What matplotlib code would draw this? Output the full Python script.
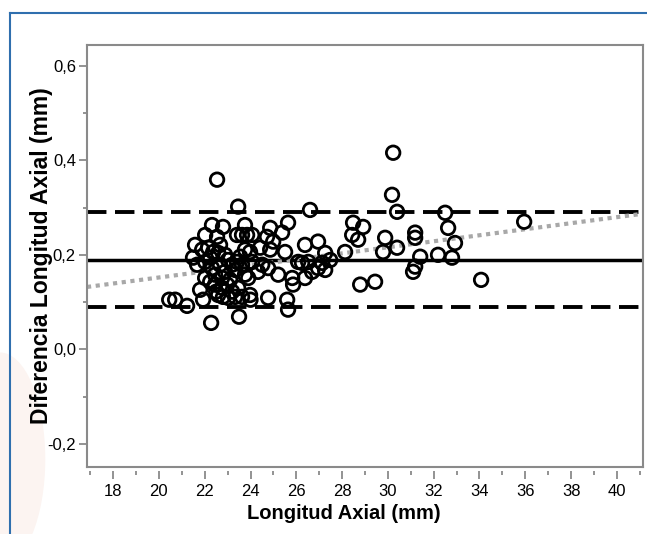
import numpy as np
import matplotlib
matplotlib.use('Agg')
import matplotlib.pyplot as plt
from matplotlib.patches import Ellipse
from matplotlib.ticker import MultipleLocator, FuncFormatter

plt.rcParams['font.family'] = ['Liberation Sans', 'DejaVu Sans']

# Longitud axial (mm) vs diferencia (mm)
longitud = [20.45, 20.71, 21.23, 21.89, 22.15, 22.37, 22.59, 22.89, 21.49, 21.67,
            22.02, 22.32, 22.45, 22.67, 22.89, 23.20, 23.41, 23.63, 23.76, 22.02,
            22.24, 22.45, 22.76, 22.98, 23.20, 23.46, 22.59, 22.80, 23.02, 23.33,
            23.63, 23.98, 21.80, 22.76, 23.90, 23.98, 23.76, 24.07, 23.55, 21.93,
            22.32, 22.80, 22.02, 22.54, 22.67, 23.41, 23.63, 23.85, 23.76, 24.07,
            22.54, 22.28, 23.46, 23.50, 23.11, 23.33, 23.02, 22.24, 21.58, 22.50,
            24.86, 25.64, 25.38, 24.72, 24.99, 24.42, 24.86, 25.51, 26.38, 26.95,
            27.26, 26.52, 26.25, 26.08, 27.13, 27.48, 24.51, 24.77, 24.33, 25.21,
            25.82, 25.86, 26.38, 26.69, 26.95, 27.26, 24.00, 24.77, 25.60, 25.64,
            26.60, 30.23, 30.18, 30.40, 32.50, 32.63, 32.93, 28.48, 28.92, 28.44,
            28.70, 29.88, 29.79, 30.40, 28.13, 31.19, 31.19, 31.41, 31.19, 31.10,
            32.19, 32.80, 28.79, 29.44, 34.07, 35.95]
diferencia = [0.105, 0.105, 0.092, 0.211, 0.215, 0.206, 0.204, 0.200, 0.194, 0.179,
              0.185, 0.172, 0.158, 0.179, 0.164, 0.179, 0.185, 0.179, 0.158, 0.151,
              0.143, 0.137, 0.130, 0.137, 0.122, 0.130, 0.115, 0.111, 0.109, 0.111,
              0.111, 0.115, 0.126, 0.151, 0.151, 0.206, 0.211, 0.185, 0.196, 0.105,
              0.263, 0.259, 0.242, 0.238, 0.221, 0.242, 0.242, 0.242, 0.263, 0.242,
              0.359, 0.056, 0.302, 0.069, 0.147, 0.168, 0.189, 0.194, 0.221, 0.122,
              0.257, 0.268, 0.247, 0.238, 0.228, 0.215, 0.211, 0.206, 0.221, 0.228,
              0.204, 0.185, 0.183, 0.185, 0.183, 0.189, 0.179, 0.172, 0.164, 0.158,
              0.151, 0.137, 0.151, 0.164, 0.172, 0.168, 0.105, 0.109, 0.105, 0.084,
              0.295, 0.416, 0.327, 0.291, 0.289, 0.257, 0.225, 0.268, 0.259, 0.242,
              0.232, 0.236, 0.206, 0.215, 0.206, 0.247, 0.236, 0.196, 0.175, 0.164,
              0.200, 0.194, 0.137, 0.143, 0.147, 0.270]

media = 0.19
lim_sup = 0.29
lim_inf = 0.09
# regression line (dotted grey): value at the left and right edge
reg_x = [16.86, 41.14]
reg_y = [0.132, 0.287]

gray = '#8a8a8a'

fig = plt.figure(figsize=(6.47, 5.34), dpi=100)

# page decoration: blue border and faint peach blob
fig.add_artist(Ellipse((0.0, 0.14), 0.14, 0.40, transform=fig.transFigure,
                       facecolor='#fcf4f1', edgecolor='none', zorder=0))
fig.add_artist(plt.Line2D([9.5 / 647, 1.0], [1 - 12.5 / 534] * 2,
                          transform=fig.transFigure, color='#2f6fae', lw=1.5))
fig.add_artist(plt.Line2D([9.5 / 647] * 2, [0.0, 1 - 12.5 / 534],
                          transform=fig.transFigure, color='#2f6fae', lw=1.5))

ax = fig.add_axes([87 / 647, 1 - 467 / 534, 556 / 647, 422 / 534])
ax.patch.set_alpha(0)

ax.axhline(lim_sup, color='black', lw=2.8, ls=(0, (5, 2.2)), zorder=2)
ax.axhline(lim_inf, color='black', lw=2.8, ls=(0, (5, 2.2)), zorder=2)
ax.axhline(media, color='black', lw=2.5, zorder=2)
ax.plot(reg_x, reg_y, color='#a8a8a8', lw=3, ls=(0, (1, 1.1)), zorder=2)

ax.scatter(longitud, diferencia, s=95, facecolors='none', edgecolors='black',
           linewidths=2.0, zorder=3)

ax.set_xlim(16.86, 41.14)

ax.xaxis.set_major_locator(MultipleLocator(2))
ax.xaxis.set_minor_locator(MultipleLocator(1))
ax.yaxis.set_major_locator(MultipleLocator(0.2))
ax.yaxis.set_minor_locator(MultipleLocator(0.1))
ax.yaxis.set_major_formatter(FuncFormatter(lambda v, p: ('%.1f' % v).replace('.', ',').replace('-0,0', '0,0')))
ax.set_ylim(-0.249, 0.644)

for s in ax.spines.values():
    s.set_color(gray)
    s.set_linewidth(1.5)
ax.spines['bottom'].set_position(('outward', 3))
ax.spines['bottom'].set_visible(False)
ax.plot([0, 1], [0, 0], transform=ax.transAxes, color=gray, lw=1.5, clip_on=False)

ax.tick_params(which='major', length=6, width=1.3, color=gray, labelsize=12, pad=2)
ax.tick_params(which='minor', length=3, width=1.3, color=gray)
ax.tick_params(axis='x', which='both', pad=3)

ax.set_xlabel('Longitud Axial (mm)', fontsize=14.5, fontweight='bold')
ax.set_ylabel('Diferencia Longitud Axial (mm)', fontsize=16.5, fontweight='bold')
ax.xaxis.set_label_coords((343.5 - 87) / 556, -0.088)
ax.yaxis.set_label_coords((53 - 87) / 556, 0.5)

fig.savefig('out.png', dpi=100)
